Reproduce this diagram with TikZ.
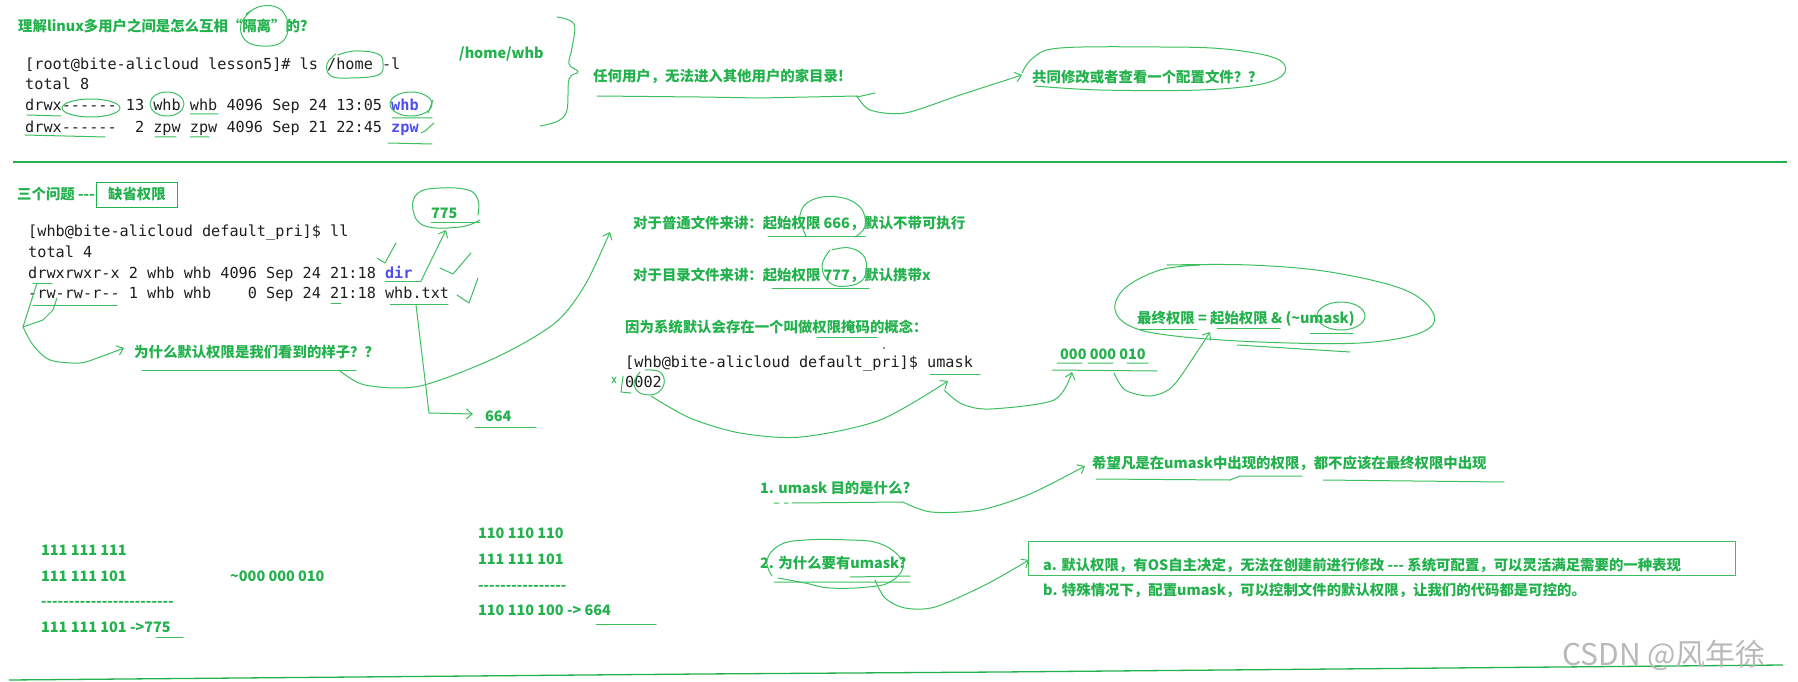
\documentclass[tikz,border=0pt]{standalone}
\usepackage{fontspec}
\usepackage{tikz}
\usetikzlibrary{arrows.meta}
\usetikzlibrary{positioning}

\newfontfamily\cjkfont{Noto Sans CJK SC}
\newfontfamily\termfont{DejaVu Sans Mono}

\definecolor{colorGreen}{HTML}{22B14C}
\definecolor{colorStroke}{HTML}{3DBF60}
\definecolor{colorTerm}{HTML}{1E1E1E}
\definecolor{colorBlue}{HTML}{4F4FF0}
\definecolor{colorMark}{HTML}{B9B9B9}
\def\colorGreen{colorGreen}
\def\colorStroke{colorStroke}
\def\colorTerm{colorTerm}
\def\colorBlue{colorBlue}
\def\colorMark{colorMark}

\tikzset{
    note/.style={anchor=base west, inner sep=0pt, text=\colorGreen,
        font=\cjkfont\bfseries\fontsize{14.4pt}{17pt}\selectfont},
    term/.style={anchor=base west, inner sep=0pt, text=\colorTerm,
        font=\termfont\fontsize{15.2pt}{18pt}\selectfont},
    stroke/.style={draw=\colorStroke, line width=1pt, line cap=round, line join=round},
    hand/.style={stroke, ->, >={Straight Barb[length=6pt, width=10pt]}},
    rule/.style={draw=\colorGreen, line width=1.3pt}
}

\begin{document}
\begin{tikzpicture}[x=1pt, y=-1pt]

    % Fond
    \fill[white] (0,0) rectangle (1798,682);
    \useasboundingbox (0,0) rectangle (1798,682);

    % Partie haute : isolation des utilisateurs
    \node[note] (title) at (18,32) {理解linux多用户之间是怎么互相“隔离”的?};
    \node[term] (lsCmd) at (25,70) {[root@bite-alicloud lesson5]\# ls /home -l};
    \node[term] (lsTotal) at (25,90) {total 8};
    \node[term] (lsWhb) at (25,111) {drwx------ 13 whb whb 4096 Sep 24 13:05 {\bfseries\color{\colorBlue}whb}};
    \node[term] (lsZpw) at (25,132) {drwx------\ \ 2 zpw zpw 4096 Sep 21 22:45 {\bfseries\color{\colorBlue}zpw}};
    \node[note] (homeWhb) at (459,59) {/home/whb};
    \node[note] (noEnter) at (593,82) {任何用户，无法进入其他用户的家目录!};
    \node[note] (shareConf) at (1032,83) {共同修改或者查看一个配置文件？？};

    \draw[stroke] plot[smooth, tension=0.7] coordinates {(252,10) (241,24) (245,40) (262,46) (282,42) (288,25) (280,9) (262,6) (246,14)};
    \draw[stroke] plot[smooth, tension=0.7] coordinates {(336,54) (327,64) (331,76) (350,78) (378,75) (383,64) (378,54) (355,51) (338,55)};
    \draw[stroke] (91,108) ellipse [x radius=29, y radius=9];
    \draw[stroke] (167,104) ellipse [x radius=17, y radius=12];
    \draw[stroke] (411,104) ellipse [x radius=21, y radius=12];
    \draw[stroke] (27,115) -- (61,116) (190,114) -- (218,114) (392,118) -- (432,118) (388,143) -- (432,144);
    \draw[stroke] (428,113) -- (433,100) (421,133) -- (425,131) -- (434,123);
    \draw[stroke] (25,135) -- (105,137) (155,137) -- (176,137) (190,137) -- (209,137);
    \draw[stroke] plot[smooth, tension=0.6] coordinates {(557,17) (574,24) (572,48) (569,64) (578,72) (569,79) (567,110) (558,121) (540,126)};

    \draw[stroke] (597,96) -- (700,97) -- (760,98) -- (857,96) (857,97) -- (875,93);
    \draw[hand] plot[smooth] coordinates {(857,96) (870,110) (905,113) (960,95) (1022,75)};
    \draw[stroke] plot[smooth, tension=0.6] coordinates {(1022,73) (1033,58) (1060,48) (1160,47) (1225,49) (1275,58) (1285,72) (1262,84) (1200,90) (1100,90) (1035,86)};

    % Separation
    \draw[rule] (13,162) -- (1787,162);

    % Partie centrale : droits par defaut
    \node[note] (threeQ) at (17,199) {三个问题 ---};
    \node[note, anchor=west, draw=\colorGreen, line width=0.8pt, minimum width=81pt, minimum height=25pt] (boxDefault) at (96,194.5) {缺省权限};
    \node[term] (llCmd) at (28,236) {[whb@bite-alicloud default\_pri]\$ ll};
    \node[term] (llTotal) at (28,257) {total 4};
    \node[term] (llDir) at (28,278) {drwxrwxr-x 2 whb whb 4096 Sep 24 21:18 {\bfseries\color{\colorBlue}dir}};
    \node[term] (llTxt) at (28,298) {-rw-rw-r-- 1 whb whb\ \ \ \ 0 Sep 24 21:18 whb.txt};
    \node[note] (dirPerm) at (431,218) {775};
    \node[note] (whyDefault) at (134,357) {为什么默认权限是我们看到的样子？？};
    \node[note] (txtPerm) at (485,421) {664};

    \draw[stroke] plot[smooth, tension=0.7] coordinates {(480,220) (460,227) (425,226) (413,210) (418,193) (440,188) (468,190) (478,200) (478,215)};
    \draw[stroke] (431,222) -- (480,222) (385,281) -- (421,281);
    \draw[hand] (421,281) -- (446,230);
    \draw[stroke] (377,258) -- (385,263) -- (396,243) (440,268) -- (453,274) -- (471,253) (457,295) -- (469,303) -- (478,278);
    \draw[stroke] (390,304) -- (448,304) (475,427) -- (536,427);
    \draw[hand] (416,305) -- (429,413) -- (473,414);
    \draw[stroke] (33,305) -- (117,305) (331,303) -- (341,303) (33,283) -- (52,283);
    \draw[stroke] (37,283) -- (23,327) -- (43,320) -- (53,310) -- (57,298);
    \draw[hand] plot[smooth] coordinates {(23,327) (33,345) (50,360) (80,363) (100,357) (124,348)};
    \draw[stroke] (142,370) -- (356,370);
    \draw[hand] plot[smooth] coordinates {(339,370) (365,385) (420,386) (497,357) (555,323) (585,285) (610,232)};

    \node[note] (fileStart) at (633,228) {对于普通文件来讲：起始权限 666，默认不带可执行};
    \node[note] (dirStart) at (633,280) {对于目录文件来讲：起始权限 777，默认携带x};
    \node[note] (maskIdea) at (625,332) {因为系统默认会存在一个叫做权限掩码的概念：};
    \node[term] (umaskCmd) at (625,367) {[whb@bite-alicloud default\_pri]\$ umask};
    \node[term] (umaskOut) at (625,387) {0002};
    \node[note] (maskBits) at (1060,359) {000 000 010};
    \node[note] (finalRule) at (1137,323) {最终权限 = 起始权限 \& (\textasciitilde umask)};

    \draw[stroke] plot[smooth, tension=0.7] coordinates {(806,236) (800,215) (812,200) (838,197) (860,207) (865,226) (855,237)};
    \draw[stroke] (768,236) -- (865,236) (772,288) -- (869,288) (817,337) -- (877,337) (930,374) -- (980,374);
    \draw[stroke] plot[smooth, tension=0.7] coordinates {(830,250) (822,266) (830,283) (848,286) (864,278) (865,258) (850,248) (832,250)};
    \fill[\colorTerm] (884,348) circle [radius=0.8];
    \draw[stroke] (623,376) -- (621,392) -- (631,393) (612,377) -- (616,383) (616,377) -- (612,383);
    \draw[stroke] plot[smooth, tension=0.7] coordinates {(640,372) (634,383) (640,393) (655,394) (664,384) (660,372) (645,370)};
    \draw[hand] plot[smooth] coordinates {(651,396) (690,418) (740,433) (801,437) (880,420) (948,381)};
    \draw[hand] plot[smooth] coordinates {(944,390) (962,404) (990,409) (1054,400) (1072,372)};
    \draw[stroke] (1057,363) -- (1082,363) (1088,363) -- (1113,363) (1127,363) -- (1148,363) (1052,370) -- (1157,371);
    \draw[hand] plot[smooth] coordinates {(1114,373) (1125,390) (1150,396) (1172,387) (1195,355) (1210,332)};
    \draw[stroke] plot[smooth, tension=0.6] coordinates {(1200,265) (1160,270) (1125,288) (1115,310) (1132,327) (1175,336) (1260,342) (1360,343) (1420,333) (1434,315) (1405,290) (1330,272) (1250,265) (1167,265)};
    \draw[stroke] (1237,345) -- (1350,352);
    \draw[stroke] (1341,316) ellipse [x radius=24, y radius=14];
    \draw[stroke] (1140,329) -- (1197,329) (1217,328) -- (1280,328) (1310,333) -- (1353,333);

    % Partie basse : calculs et umask
    \node[note] (dirA) at (41,555) {111 111 111};
    \node[note] (dirB) at (41,581) {111 111 101};
    \node[note] (dirLine) at (41,606) {------------------------};
    \node[note] (dirRes) at (41,632) {111 111 101 ->775};
    \node[note] (notMask) at (230,581) {\textasciitilde 000 000 010};
    \node[note] (txtA) at (478,538) {110 110 110};
    \node[note] (txtB) at (478,564) {111 111 101};
    \node[note] (txtLine) at (478,590) {----------------};
    \node[note] (txtRes) at (478,615) {110 110 100 -> 664};
    \draw[stroke] (156,637) -- (183,637) (596,624) -- (656,624);

    \node[note] (qOne) at (760,493) {1. umask 目的是什么?};
    \node[note] (aOne) at (1092,468) {希望凡是在umask中出现的权限，都不应该在最终权限中出现};
    \node[note] (qTwo) at (760,568) {2. 为什么要有umask?};
    \node[note] (aTwoA) at (1043,570) {a. 默认权限，有OS自主决定，无法在创建前进行修改 --- 系统可配置，可以灵活满足需要的一种表现};
    \node[note] (aTwoB) at (1043,595) {b. 特殊情况下，配置umask，可以控制文件的默认权限，让我们的代码都是可控的。};

    \draw[stroke] (774,503) -- (779,503) (784,503) -- (788,503) (792,503) -- (903,502);
    \draw[hand] plot[smooth] coordinates {(903,502) (931,512) (980,510) (1030,494) (1085,466)};
    \draw[stroke] (1096,479) -- (1230,480) -- (1240,476) -- (1302,476) (1323,480) -- (1504,482);
    \draw[stroke] plot[smooth, tension=0.7] coordinates {(772,576) (767,560) (780,545) (805,540) (850,540) (878,543) (898,555) (903,568) (890,582) (868,587) (830,588) (805,583) (778,578)};
    \draw[stroke] (774,582) -- (910,582) (850,577) -- (910,576);
    \draw[hand] plot[smooth] coordinates {(875,580) (885,598) (905,608) (935,607) (985,585) (1029,560)};
    \draw[stroke] (1028,541) rectangle (1735,575);

    \draw[rule] (9,680) -- (700,674) -- (1000,672) -- (1783,665);
    \node[anchor=base west, inner sep=0pt, text=\colorMark, font=\cjkfont\fontsize{30pt}{34pt}\selectfont] (mark) at (1562,665) {CSDN @风年徐};

\end{tikzpicture}
\end{document}
